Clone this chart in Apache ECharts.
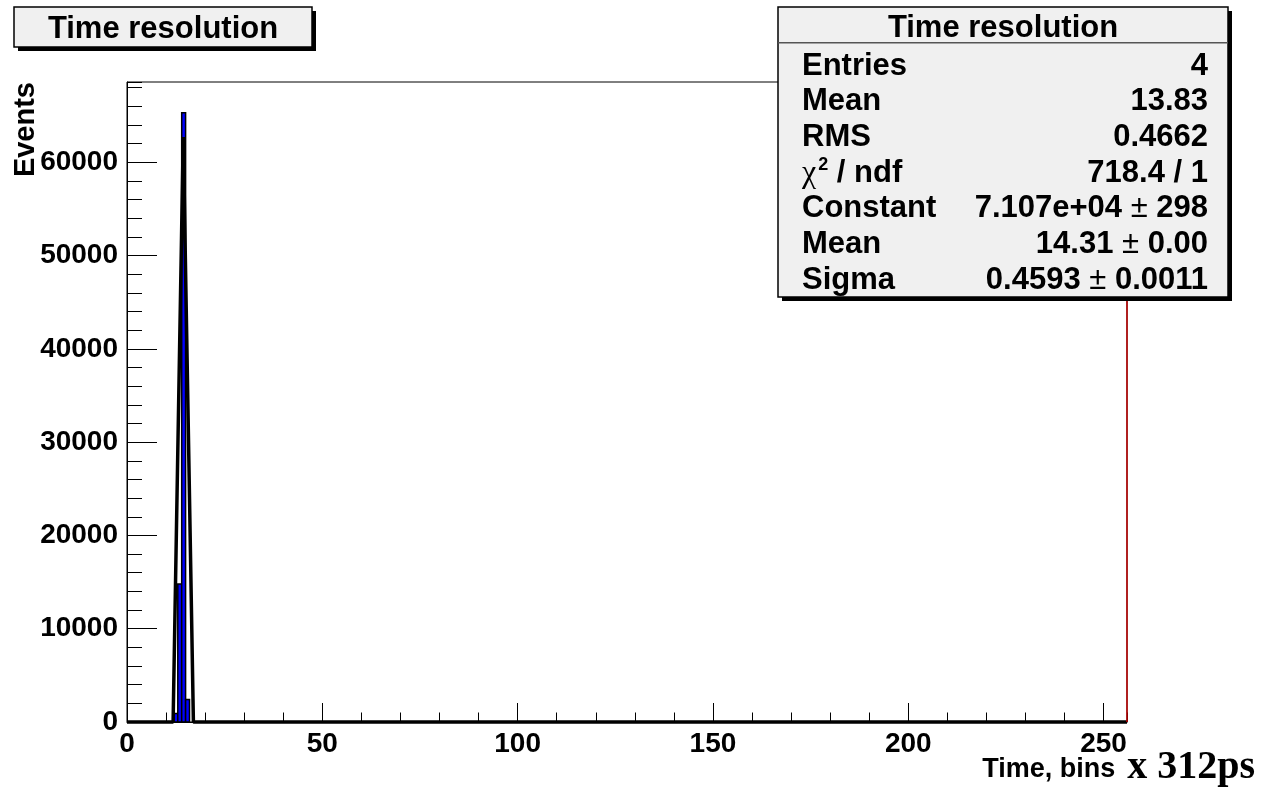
<!DOCTYPE html>
<html><head><meta charset="utf-8">
<script src="https://cdn.jsdelivr.net/npm/echarts@6/dist/echarts.min.js"></script>
<style>html,body{margin:0;padding:0;background:#fff}#c{width:1264px;height:793px}</style>
</head><body><div id="c"></div>
<script>
// ---- data ----
const binLow = [12, 13, 14, 15];
const binCounts = [900, 14800, 65300, 2400];
const binWidth = 1;
const fitX = [0, 11.8, 14.4, 17.0, 256];
const fitY = [0, 0, 62700, 0, 0];
const xRange = [0, 256];
const yRange = [0, 68600];
const xMajor = 50, xMinor = 10;
const yMajor = 10000, yMinor = 2000;
const titleText = 'Time resolution';
const xTitle = 'Time, bins';
const xUnit = 'x 312ps';
const yTitle = 'Events';
const statLabels = ['Entries', 'Mean', 'RMS', '{chi|χ}{sup|2}{lab| / ndf}', 'Constant', 'Mean', 'Sigma'];
const statValues = ['4', '13.83', '0.4662', '718.4 / 1', '7.107e+04', '14.31', '0.4593'];
const statErrors = ['', '', '', '', '298', '0.00', '0.0011'];

const FONT = '"Liberation Sans", Arial, Helvetica, sans-serif';
const SERIF = '"Liberation Serif", "Times New Roman", serif';

const chart = echarts.init(document.getElementById('c'), null, {renderer: 'canvas'});

const richStats = {
  chi: {fontFamily: SERIF, fontWeight: 'normal', fontSize: 32, color: '#000'},
  sup: {fontFamily: FONT, fontWeight: 'bold', fontSize: 18, color: '#000', padding: [0, 0, 16, 2]},
  lab: {fontFamily: FONT, fontWeight: 'bold', fontSize: 31, color: '#000'},
  v: {fontFamily: FONT, fontWeight: 'bold', fontSize: 31, color: '#000'},
  pm: {fontFamily: FONT, fontWeight: 'normal', fontSize: 31, color: '#555'}
};

const graphics = [];
// title box
graphics.push({type: 'rect', z: 100, shape: {x: 18, y: 11, width: 298, height: 40}, style: {fill: '#000'}});
graphics.push({type: 'rect', z: 101, shape: {x: 14, y: 7, width: 298, height: 40}, style: {fill: '#f0f0f0', stroke: '#000', lineWidth: 1.5}});
graphics.push({type: 'text', z: 102, style: {x: 163, y: 29, text: titleText, fontFamily: FONT, fontWeight: 'bold', fontSize: 31, fill: '#000', align: 'center', verticalAlign: 'middle'}});
// stats box
graphics.push({type: 'rect', z: 100, shape: {x: 782, y: 11, width: 450, height: 290}, style: {fill: '#000'}});
graphics.push({type: 'rect', z: 101, shape: {x: 778, y: 7, width: 450, height: 290}, style: {fill: '#f0f0f0', stroke: '#000', lineWidth: 1.5}});
graphics.push({type: 'line', z: 102, shape: {x1: 778, y1: 42.7, x2: 1228, y2: 42.7}, style: {stroke: '#555', lineWidth: 1.5}});
graphics.push({type: 'text', z: 102, style: {x: 1003, y: 28, text: titleText, fontFamily: FONT, fontWeight: 'bold', fontSize: 31, fill: '#000', align: 'center', verticalAlign: 'middle'}});
const rowY0 = 66, rowStep = 35.7;
statLabels.forEach((lab, i) => {
  const y = rowY0 + i * rowStep;
  graphics.push({type: 'text', z: 102, style: {x: 802, y: y, text: lab, rich: richStats, fontFamily: FONT, fontWeight: 'bold', fontSize: 31, fill: '#000', align: 'left', verticalAlign: 'middle'}});
  const txt = statErrors[i] ? `{v|${statValues[i]}}{pm| ± }{v|${statErrors[i]}}` : `{v|${statValues[i]}}`;
  graphics.push({type: 'text', z: 102, style: {x: 1208, y: y, text: txt, rich: richStats, fontFamily: FONT, fontWeight: 'bold', fontSize: 31, fill: '#000', align: 'right', verticalAlign: 'middle'}});
});

const labelStyle = {fontFamily: FONT, fontWeight: 'bold', fontSize: 28, color: '#000'};

const option = {
  animation: false,
  backgroundColor: '#fff',
  grid: {left: 127, top: 82, width: 1000, height: 640, show: true, borderColor: '#000', borderWidth: 1, backgroundColor: 'transparent', containLabel: false, outerBoundsMode: 'none'},
  xAxis: [
    {
      type: 'value', gridIndex: 0, position: 'bottom', min: xRange[0], max: xRange[1], interval: xMajor,
      axisLine: {show: true, onZero: false, lineStyle: {color: '#000', width: 1}},
      axisTick: {show: true, inside: true, length: 19, lineStyle: {color: '#000', width: 1}},
      axisLabel: Object.assign({show: true, margin: 8, showMaxLabel: false, showMinLabel: true, formatter: v => String(v)}, labelStyle),
      splitLine: {show: false},
      name: `{a|${xTitle}}{b|${xUnit}}`,
      nameLocation: 'end', nameGap: 128, nameMoveOverlap: false,
      nameTextStyle: {
        align: 'right', verticalAlign: 'top', padding: [26, 0, 0, 0],
        rich: {
          a: {fontFamily: FONT, fontWeight: 'bold', fontSize: 27, color: '#000', lineHeight: 40, padding: [3, 0, 0, 0]},
          b: {fontFamily: SERIF, fontWeight: 'bold', fontSize: 40, color: '#000', lineHeight: 40, padding: [0, 0, 0, 12]}
        }
      }
    },
    {
      type: 'value', gridIndex: 0, position: 'bottom', min: xRange[0], max: xRange[1], interval: xMinor,
      axisLine: {show: false},
      axisTick: {show: true, inside: true, length: 9.5, lineStyle: {color: '#000', width: 1}},
      axisLabel: {show: false}, splitLine: {show: false}
    }
  ],
  yAxis: [
    {
      type: 'value', gridIndex: 0, position: 'left', min: yRange[0], max: yRange[1], interval: yMajor,
      axisLine: {show: true, onZero: false, lineStyle: {color: '#000', width: 1}},
      axisTick: {show: true, inside: true, length: 30, lineStyle: {color: '#000', width: 1}},
      axisLabel: Object.assign({show: true, margin: 9, showMaxLabel: false, formatter: v => String(v)}, labelStyle),
      splitLine: {show: false},
      name: yTitle, nameLocation: 'end', nameGap: 0, nameRotate: 90, nameMoveOverlap: false,
      nameTextStyle: {align: 'right', verticalAlign: 'bottom', padding: [0, 0, 87, 0], fontFamily: FONT, fontWeight: 'bold', fontSize: 29, color: '#000'}
    },
    {
      type: 'value', gridIndex: 0, position: 'left', min: yRange[0], max: yRange[1], interval: yMinor,
      axisLine: {show: false},
      axisTick: {show: true, inside: true, length: 15, lineStyle: {color: '#000', width: 1}},
      axisLabel: {show: false}, splitLine: {show: false}
    }
  ],
  series: [
    {
      type: 'custom', xAxisIndex: 0, yAxisIndex: 0, clip: false,
      data: binLow.map((b, i) => [b, b + binWidth, binCounts[i]]),
      encode: {x: [0, 1], y: 2},
      renderItem: (params, api) => {
        const p0 = api.coord([api.value(0), api.value(2)]);
        const p1 = api.coord([api.value(1), 0]);
        return {type: 'rect', shape: {x: p0[0], y: p0[1], width: p1[0] - p0[0], height: p1[1] - p0[1]},
          style: {fill: '#0000ff', stroke: '#000', lineWidth: 1.5}};
      },
      z: 3
    },
    {
      type: 'line', xAxisIndex: 0, yAxisIndex: 0, clip: false,
      data: fitX.map((x, i) => [x, fitY[i]]),
      showSymbol: false, symbol: 'none',
      lineStyle: {color: '#000', width: 3.5},
      z: 4,
      markLine: {
        silent: true, symbol: 'none', label: {show: false},
        lineStyle: {color: '#c00000', width: 1.5, type: 'solid'},
        data: [{xAxis: xRange[1]}]
      }
    }
  ],
  graphic: graphics
};
chart.setOption(option);
</script>
</body></html>
